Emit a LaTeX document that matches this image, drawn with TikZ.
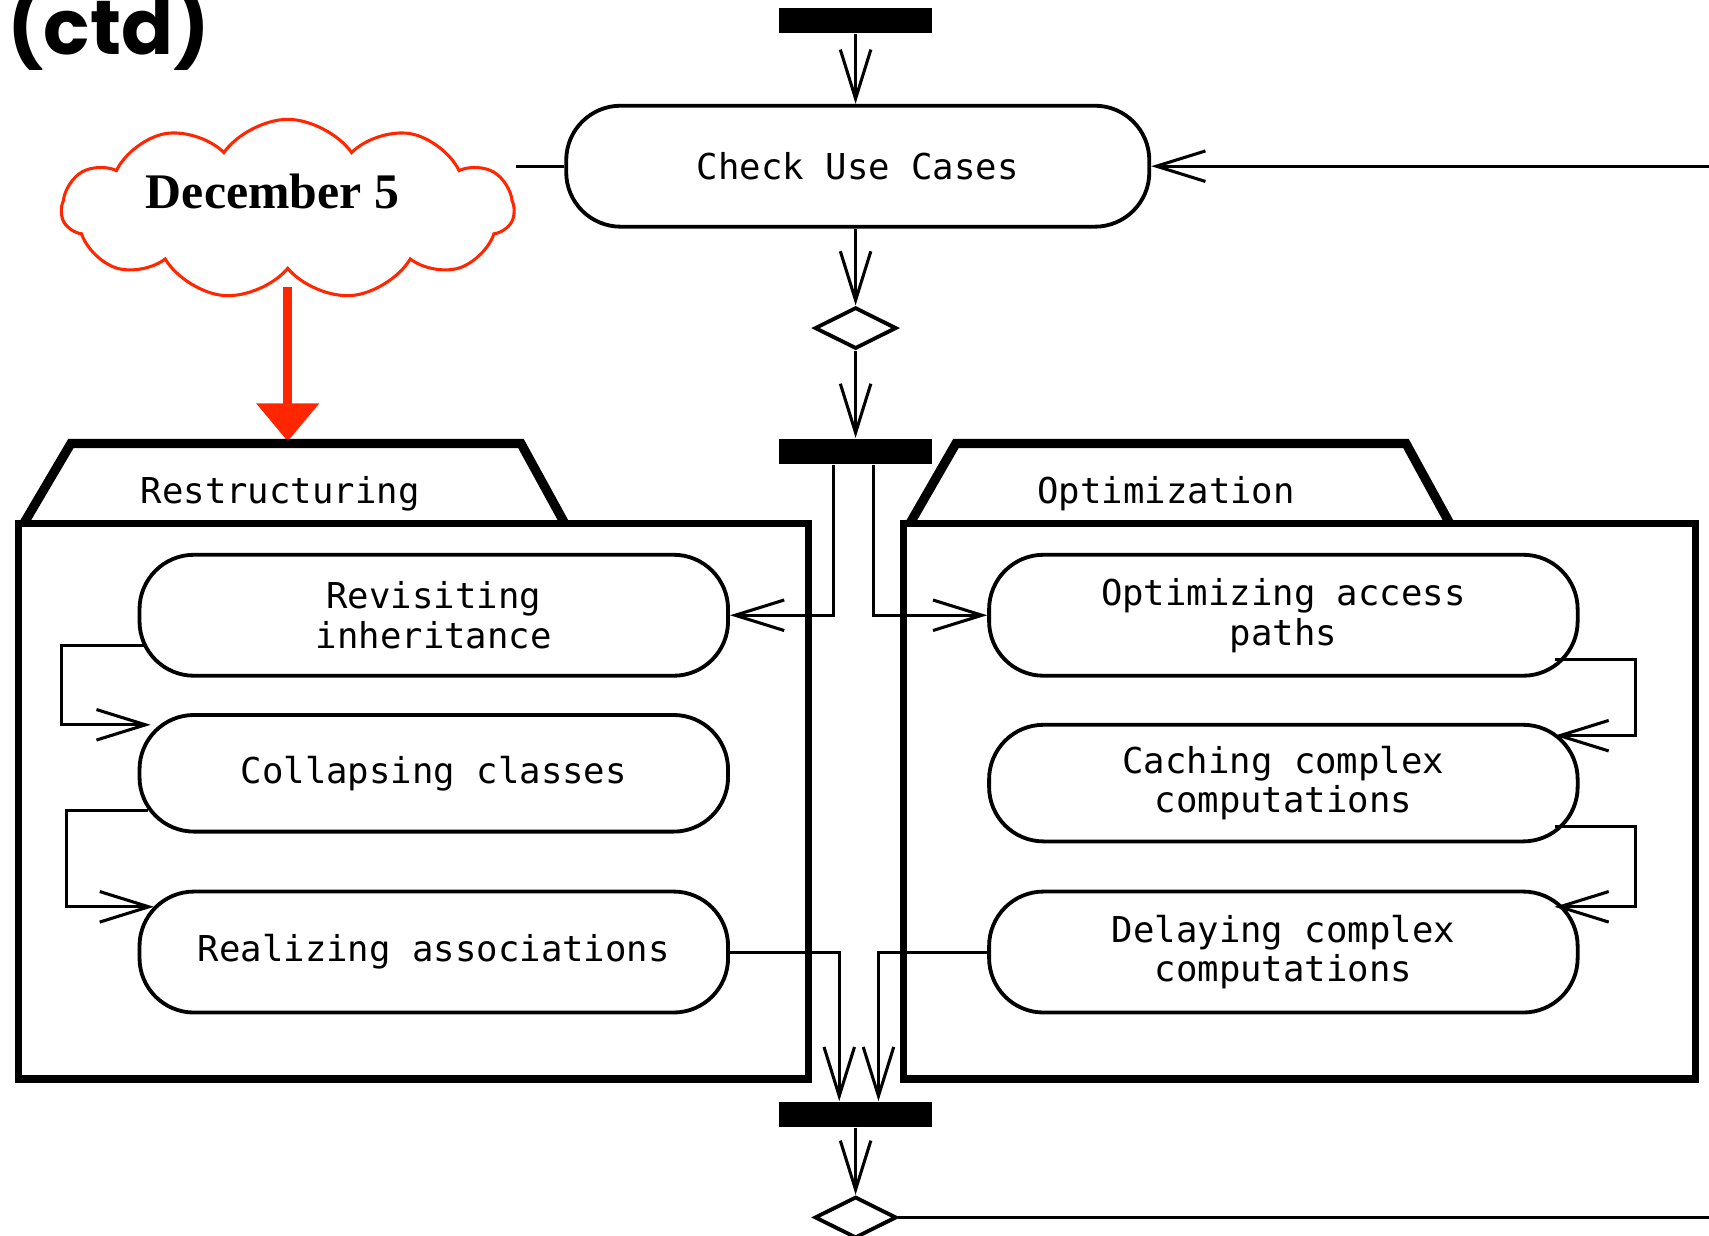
\documentclass[tikz,border=0pt]{standalone}
\usepackage{fontspec}
\newfontfamily\actfont{DejaVu Sans Mono}
\newfontfamily\notefont{Liberation Serif}
\newfontfamily\headfont{Poppins}
\usetikzlibrary{arrows.meta,shapes.geometric,shapes.symbols}
\definecolor{notered}{RGB}{255,38,0}

\begin{document}
\begin{tikzpicture}[x=0.1mm, y=-0.1mm,
  act/.style={draw, line width=1pt, rounded corners=5mm, minimum width=54mm,
    minimum height=11.1mm, align=center, inner sep=0pt,
    font=\actfont\fontsize{9.3}{10.4}\selectfont},
  bar/.style={fill=black, minimum width=14.1mm, minimum height=2.3mm, inner sep=0pt},
  choice/.style={draw, diamond, aspect=2, line width=1pt, minimum width=7.5mm,
    minimum height=3.8mm, inner sep=0pt},
  flow/.style={line width=0.8pt, -{Straight Barb[length=4.5mm, width=2.8mm]}},
  link/.style={line width=0.8pt},
  pkg/.style={line width=0.65mm},
  tab/.style={line width=0.85mm},
  pkglabel/.style={font=\actfont\fontsize{9.3}{10.4}\selectfont}]
  \useasboundingbox (0,0) rectangle (1568,1134);

  \node (ctd) at (6,50) [anchor=base west, inner sep=0pt,
    font=\headfont\bfseries\fontsize{20}{20}\selectfont] {(ctd)};
  \node (note) at (264,192) [cloud, draw=notered, line width=0.8pt, cloud puffs=11,
    cloud puff arc=110, aspect=2.5, minimum width=41.5mm, minimum height=16.5mm,
    inner sep=0pt] {};
  \node (date) at (250,176) [font=\notefont\bfseries\fontsize{13}{13}\selectfont] {December 5};
  \coordinate (restop) at (260,405);
  \draw[notered, line width=0.8mm, -{Triangle[length=3.5mm, width=5.6mm]}]
    ([yshift=-1.5mm]note.south) -- (note.south |- restop);

  \draw[tab] (22,480) -- (65,407) -- (478,407) -- (518,480);
  \draw[pkg] (17,480) rectangle (742,990);
  \node (restr) at (257,453) [pkglabel] {Restructuring};
  \draw[tab] (835,480) -- (877,407) -- (1290,407) -- (1330,480);
  \draw[pkg] (829,480) rectangle (1556,990);
  \node (optim) at (1070,453) [pkglabel] {Optimization};

  \node (start) at (785,19) [bar] {};
  \node (cuc) at (787,152.5) [act, minimum width=53.5mm] {Check Use Cases};
  \node (dec1) at (785,301) [choice] {};
  \node (fork) at (785,414) [bar] {};
  \node (rev) at (398,564.5) [act] {Revisiting\\inheritance};
  \node (col) at (398,709.5) [act, minimum height=10.7mm] {Collapsing classes};
  \node (rea) at (398,873.5) [act] {Realizing associations};
  \node (opt) at (1177.5,564.5) [act] {Optimizing access\\paths};
  \node (cac) at (1177.5,718.5) [act, minimum height=10.7mm] {Caching complex\\computations};
  \node (del) at (1177.5,873.5) [act] {Delaying complex\\computations};
  \node (join) at (785,1022.5) [bar] {};
  \node (dec2) at (785,1117) [choice] {};
  \coordinate (backin) at (1568,152.5);
  \coordinate (backout) at (1568,1117);

  \draw[flow] (start) -- (cuc.north -| start);
  \draw[link] (cuc.west) -- (cuc.west -| note.east);
  \draw[flow] (backin) -- (cuc.east);
  \draw[flow] (cuc.south -| dec1) -- (dec1.north);
  \draw[flow] (dec1) -- (fork);
  \draw[flow] ([xshift=-2mm]fork.south) |- (rev.east);
  \draw[flow] ([xshift=1.6mm]fork.south) |- (opt.west);
  \draw[flow] ([xshift=0.7mm, yshift=-2.75mm]rev.west) -- ++(-77,0)
    |- ([xshift=1.2mm, yshift=4.45mm]col.west);
  \draw[flow] ([xshift=1mm, yshift=-3.45mm]col.west) -- ++(-75,0)
    |- ([xshift=1.5mm, yshift=4.15mm]rea.west);
  \draw[flow] ([xshift=-2.3mm, yshift=-4.05mm]opt.east) -- ++(74,0)
    |- ([xshift=-2.3mm, yshift=4.35mm]cac.east);
  \draw[flow] ([xshift=-2.3mm, yshift=-3.95mm]cac.east) -- ++(74,0)
    |- ([xshift=-2.3mm, yshift=4.15mm]del.east);
  \draw[flow] (rea.east) -| ([xshift=-1.5mm]join.north);
  \draw[flow] (del.west) -| ([xshift=2.1mm]join.north);
  \draw[flow] (join) -- (dec2);
  \draw[link] (dec2.east) -- (backout);
\end{tikzpicture}
\end{document}
